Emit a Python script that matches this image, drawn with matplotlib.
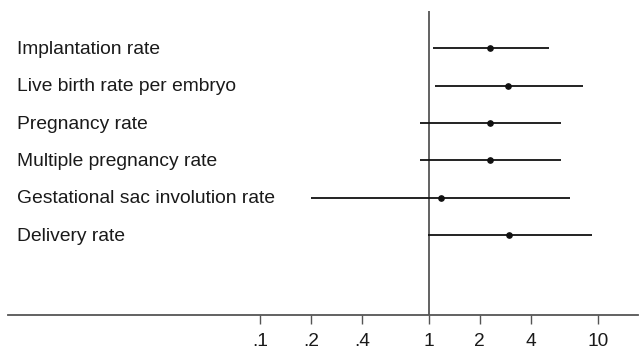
import matplotlib
matplotlib.use("Agg")
import matplotlib.pyplot as plt
import matplotlib.transforms as mtransforms
import numpy as np

labels = ["Implantation rate", "Live birth rate per embryo", "Pregnancy rate",
          "Multiple pregnancy rate", "Gestational sac involution rate", "Delivery rate"]
estimate = [2.31, 2.95, 2.31, 2.31, 1.17, 2.97]
ci_low = [1.05, 1.08, 0.89, 0.89, 0.20, 0.98]
ci_high = [5.15, 8.1, 6.0, 6.0, 6.8, 9.2]
tick_values = [0.1, 0.2, 0.4, 1, 2, 4, 10]
tick_labels = [".1", ".2", ".4", "1", "2", "4", "10"]

plt.rcParams['font.family'] = ['Liberation Sans', 'DejaVu Sans']

fig = plt.figure(figsize=(6.39, 3.51), dpi=100)
W, H = 639, 351
ax = fig.add_axes([8 / W, 1 - 315 / H, 630 / W, (315 - 11) / H])

ypos = np.arange(1, len(labels) + 1)
ax.set_xscale('log')
ax.set_xlim(10 ** ((8 - 429) / 169), 10 ** ((638 - 429) / 169))
ax.set_ylim(8.14, 0)

ax.axvline(1, color='#555555', lw=1.3, zorder=1)
ax.hlines(ypos, ci_low, ci_high, color='#111111', lw=1.3, zorder=2)
ax.plot(estimate, ypos, 'o', color='#111111', ms=3.8, zorder=3)

trans = mtransforms.blended_transform_factory(ax.transAxes, ax.transData)
for y, lab in zip(ypos, labels):
    ax.text(9 / 630, y + 0.03, lab, transform=trans, ha='left', va='center',
            fontsize=13.9, color='#1a1a1a')

for s in ['top', 'right', 'left']:
    ax.spines[s].set_visible(False)
ax.spines['bottom'].set_color('#555555')
ax.spines['bottom'].set_linewidth(1.3)
ax.set_yticks([])
ax.set_xticks(tick_values)
ax.set_xticklabels(tick_labels)
ax.xaxis.set_minor_locator(matplotlib.ticker.NullLocator())
ax.tick_params(axis='x', direction='out', length=6.5, width=1.0, color='#555555',
               labelsize=13.8, labelcolor='#1a1a1a', pad=6.5)

fig.savefig("out.png", dpi=100)
